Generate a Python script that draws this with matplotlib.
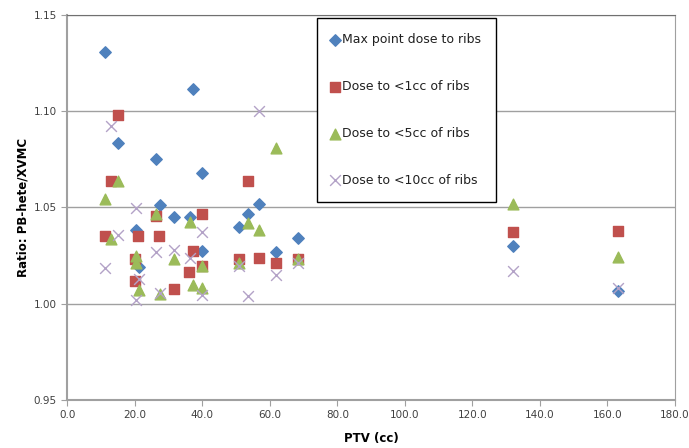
import matplotlib.pyplot as plt

# PTV (cc) and ratio values, one list pair per series
max_ptv = [11.2, 15.1, 20.3, 21.2, 26.4, 27.4, 31.6, 36.4, 37.2, 39.9, 39.9,
           50.9, 53.6, 56.7, 61.7, 68.3, 132.1, 163.0]
max_ratio = [1.1308, 1.0833, 1.0380, 1.0188, 1.0753, 1.0514, 1.0449, 1.0447, 1.1114, 1.0680, 1.0275,
             1.0399, 1.0465, 1.0518, 1.0268, 1.0340, 1.0299, 1.0067]

cc1_ptv = [11.1, 12.9, 15.1, 20.1, 20.1, 21.0, 26.4, 27.3, 31.5, 36.1, 37.2, 39.9, 39.9,
           50.9, 53.6, 56.7, 61.7, 68.3, 132.1, 163.0]
cc1_ratio = [1.0349, 1.0635, 1.0980, 1.0233, 1.0119, 1.0349, 1.0456, 1.0349, 1.0078, 1.0166, 1.0273, 1.0465, 1.0193,
             1.0233, 1.0635, 1.0238, 1.0212, 1.0233, 1.0372, 1.0378]

cc5_ptv = [11.2, 12.9, 15.1, 20.3, 20.3, 21.2, 26.4, 27.4, 31.6, 36.4, 37.2, 39.9, 39.9,
           50.9, 53.6, 56.7, 61.7, 68.3, 132.1, 163.0]
cc5_ratio = [1.0542, 1.0335, 1.0634, 1.0249, 1.0211, 1.0073, 1.0465, 1.0048, 1.0233, 1.0426, 1.0098, 1.0197, 1.0079,
             1.0211, 1.0418, 1.0380, 1.0810, 1.0233, 1.0518, 1.0243]

cc10_ptv = [11.2, 13.0, 15.1, 20.3, 20.3, 21.2, 26.4, 27.4, 31.6, 36.4, 39.9, 39.9,
            50.9, 53.6, 56.7, 61.7, 68.3, 132.1, 163.0]
cc10_ratio = [1.0183, 1.0924, 1.0357, 1.0497, 1.0017, 1.0128, 1.0268, 1.0055, 1.0280, 1.0235, 1.0371, 1.0047,
              1.0197, 1.0038, 1.1002, 1.0150, 1.0211, 1.0170, 1.0081]

x_ticks = [0, 20, 40, 60, 80, 100, 120, 140, 160, 180]
y_ticks = [0.95, 1.00, 1.05, 1.10, 1.15]

fig = plt.figure(figsize=(6.89, 4.48), dpi=100)
ax = fig.add_axes([0.0977, 0.1071, 0.8820, 0.8605])

# series markers, Excel 2007 default colours
ax.scatter(max_ptv, max_ratio, marker='D', s=34, color='#4F81BD', label='Max point dose to ribs', zorder=3)
ax.scatter(cc1_ptv, cc1_ratio, marker='s', s=50, color='#C0504D', label='Dose to <1cc of ribs', zorder=3)
ax.scatter(cc5_ptv, cc5_ratio, marker='^', s=60, color='#9BBB59', label='Dose to <5cc of ribs', zorder=3)
ax.scatter(cc10_ptv, cc10_ratio, marker='x', s=60, color='#B3A2C7', linewidths=1.0,
           label='Dose to <10cc of ribs', zorder=3)

ax.set_xlim(0, 180)
ax.set_ylim(0.95, 1.15)
ax.set_xticks(x_ticks)
ax.set_xticklabels([f'{v:.1f}' for v in x_ticks])
ax.set_yticks(y_ticks)
ax.set_yticklabels([f'{v:.2f}' for v in y_ticks])
ax.tick_params(axis='both', labelsize=7.5, colors='#404040', length=4, color='#A0A0A0')

# horizontal gridlines only
ax.yaxis.grid(True, color='#A0A0A0', linewidth=1.0)
ax.set_axisbelow(True)
for side in ['left', 'bottom']:
    ax.spines[side].set_color('#A0A0A0')
    ax.spines[side].set_linewidth(1.5)
ax.spines['right'].set_color('#A0A0A0')
ax.spines['top'].set_color('#707070')

ax.set_xlabel('PTV (cc)', fontsize=8.5, fontweight='bold', labelpad=8)
ax.set_ylabel('Ratio: PB-hete/XVMC', fontsize=8.5, fontweight='bold', labelpad=3)

leg = ax.legend(loc='upper left', bbox_to_anchor=(0.411, 0.99), fontsize=9, labelspacing=2.7,
                borderpad=1.2, handletextpad=0.3, handlelength=0.5, borderaxespad=0,
                fancybox=False, edgecolor='black', framealpha=1, scatterpoints=1)
leg.get_frame().set_linewidth(1.0)
for t in leg.get_texts():
    t.set_color('#202020')

fig.savefig('out.png', dpi=100)
